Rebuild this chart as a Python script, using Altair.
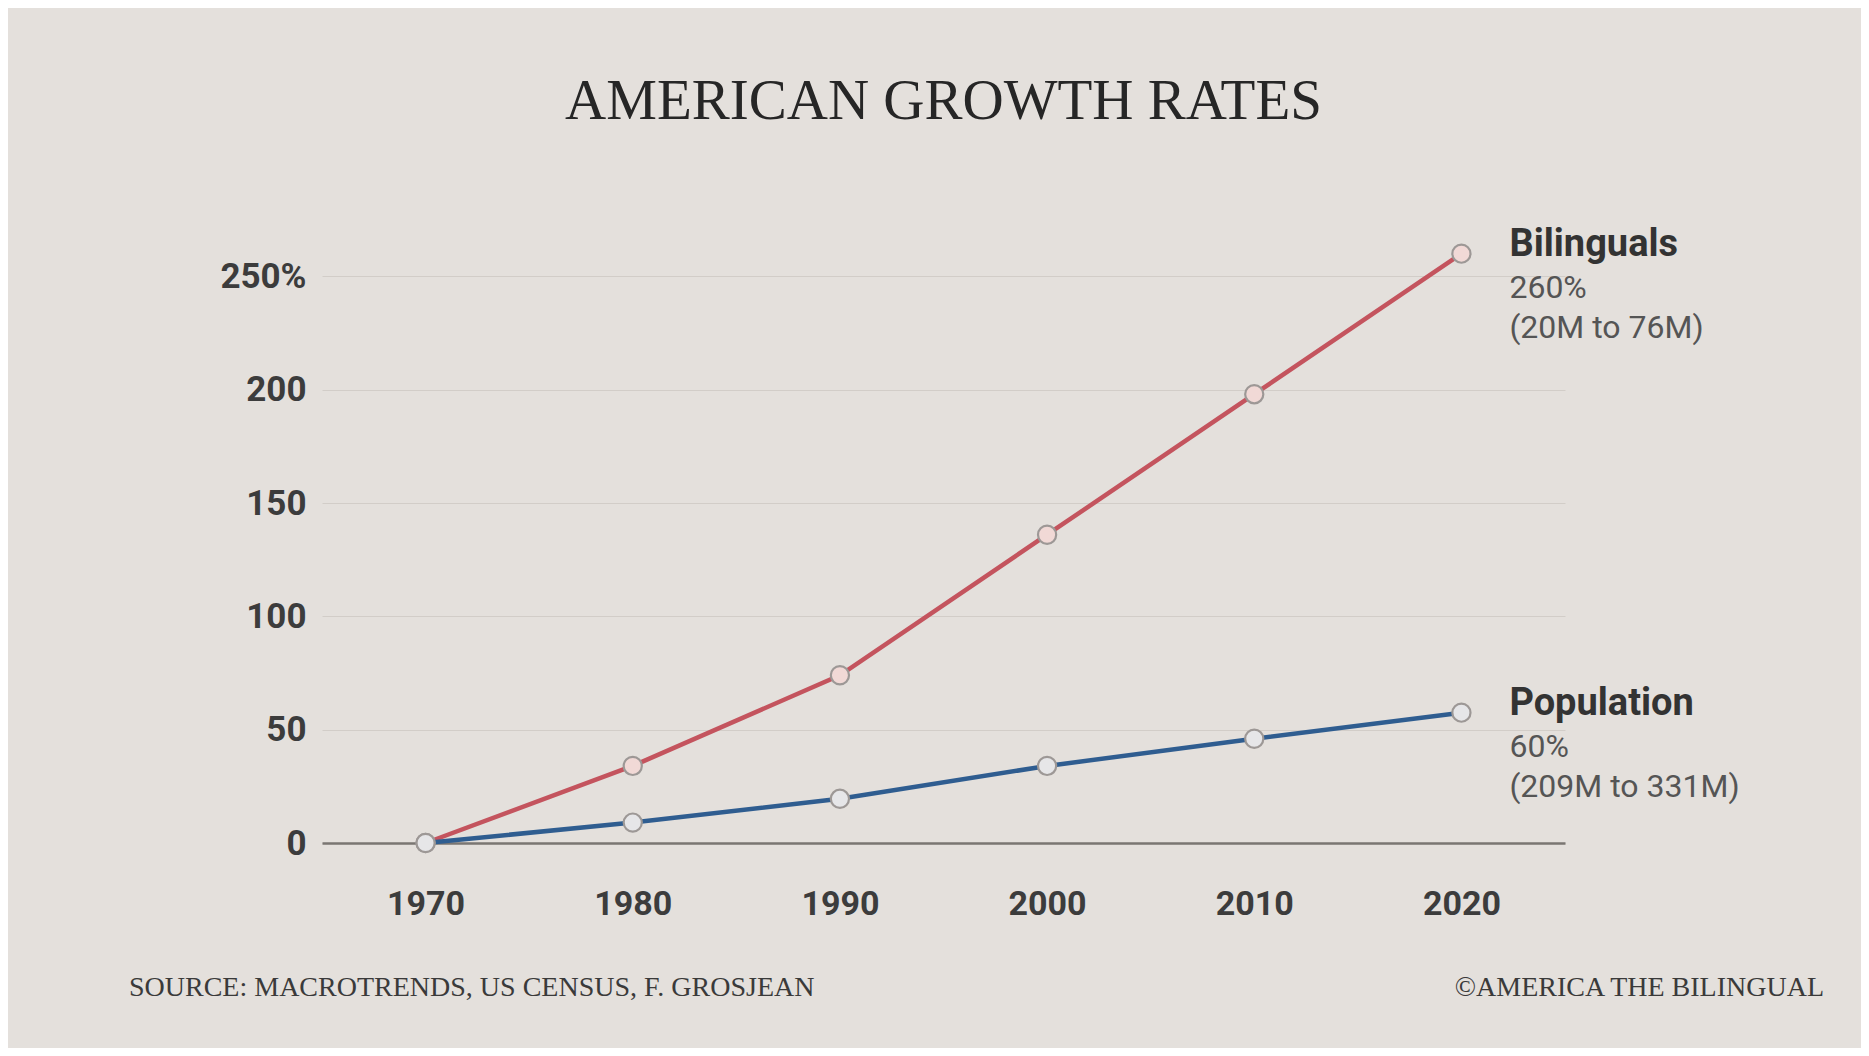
import altair as alt
import pandas as pd

years = [1970, 1980, 1990, 2000, 2010, 2020]
bilinguals = [0, 34, 74, 136, 198, 260]
population = [0, 9, 19.5, 34, 46, 57.5]
series_names = ["Bilinguals", "Population"]
label_pct = ["260%", "60%"]
label_range = ["(20M to 76M)", "(209M to 331M)"]
y_ticks = [0, 50, 100, 150, 200, 250]

BG = "#e4e0dc"
RED = "#c4545e"
BLUE = "#2f5d90"

rows = []
for y, b, p in zip(years, bilinguals, population):
    rows.append({"year": y, "value": b, "series": "Bilinguals"})
    rows.append({"year": y, "value": p, "series": "Population"})
df = pd.DataFrame(rows)

labels = pd.DataFrame({
    "series": series_names,
    "year": [years[-1], years[-1]],
    "value": [bilinguals[-1], population[-1]],
    "pct": label_pct,
    "range": label_range,
})

xscale = alt.Scale(domain=[1965.5, 2025])
yscale = alt.Scale(domain=[0, 270], nice=False)
color = alt.Color("series:N", scale=alt.Scale(domain=series_names, range=[RED, BLUE]), legend=None)

x_enc = alt.X("year:Q", scale=xscale, axis=alt.Axis(
    values=years, format="d", title=None, grid=False, ticks=False,
    domain=True, domainColor="#7a7672", domainWidth=2.5,
    labelFont="Roboto", labelFontSize=34, labelFontWeight="bold", labelColor="#3c3c3c",
    labelPadding=44))
y_enc = alt.Y("value:Q", scale=yscale, axis=alt.Axis(
    values=y_ticks, title=None, domain=False, ticks=False,
    grid=True, gridColor="#d2cdc8", gridWidth=1.2,
    labelExpr="datum.value == 250 ? '250%' : datum.label",
    labelFont="Roboto", labelFontSize=35, labelFontWeight="bold", labelColor="#3c3c3c",
    labelPadding=16))

lines = alt.Chart(df).mark_line(strokeWidth=4.5).encode(
    x=x_enc, y=y_enc, color=color, detail="series:N")

points = alt.Chart(df).mark_point(filled=False, size=330, strokeWidth=2.2, opacity=1).encode(
    x="year:Q", y="value:Q",
    fill=alt.Fill("series:N", scale=alt.Scale(domain=series_names, range=["#f1d9d6", "#e6e6e8"]), legend=None),
    stroke=alt.value("#9d9896"))

base_lab = alt.Chart(labels).encode(x="year:Q", y="value:Q")
name_t = base_lab.mark_text(align="left", baseline="middle", dx=48, dy=-9,
                            font="Roboto", fontSize=38, fontWeight="bold", color="#333333").encode(text="series:N")
pct_t = base_lab.mark_text(align="left", baseline="middle", dx=48, dy=34,
                           font="Roboto", fontSize=32, color="#555555").encode(text="pct:N")
range_t = base_lab.mark_text(align="left", baseline="middle", dx=48, dy=74,
                             font="Roboto", fontSize=32, color="#555555").encode(text="range:N")

footer = pd.DataFrame({"t": ["SOURCE: MACROTRENDS, US CENSUS, F. GROSJEAN"]})
footer_r = pd.DataFrame({"t": ["©AMERICA THE BILINGUAL"]})
src = alt.Chart(footer).mark_text(align="left", baseline="alphabetic", font="Liberation Serif",
                                  fontSize=28, color="#3a3a3a").encode(
    text="t:N", x=alt.value(-193), y=alt.value(765))
cpy = alt.Chart(footer_r).mark_text(align="right", baseline="alphabetic", font="Liberation Serif",
                                    fontSize=28, color="#3a3a3a").encode(
    text="t:N", x=alt.value(1502), y=alt.value(765))

chart = alt.layer(lines, points, name_t, pct_t, range_t, src, cpy).properties(
    width=1243, height=612,
    background=BG,
    padding={"left": 314, "top": 223, "right": 296, "bottom": 205},
    autosize=alt.AutoSizeParams(type="none"),
    title=alt.TitleParams("AMERICAN GROWTH RATES", font="Liberation Serif", fontSize=57,
                          fontWeight="normal", color="#262626", anchor="middle", offset=95),
).configure_view(stroke=None)

chart.save("out.html", embed_options={"renderer": "svg", "actions": False})
